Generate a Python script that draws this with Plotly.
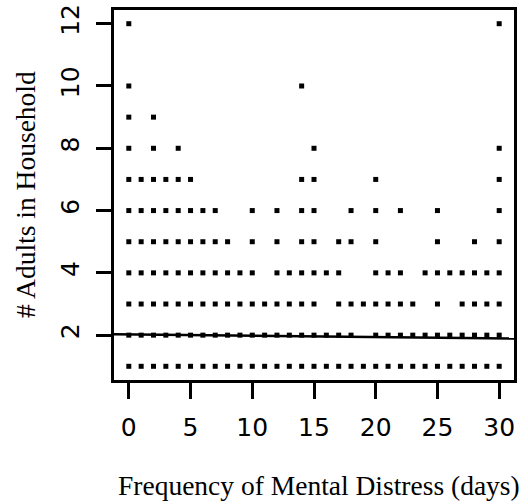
import plotly.graph_objects as go

# Days of mental distress observed for each household size (# adults)
adults_1 = list(range(0, 31))
adults_2 = list(range(0, 19)) + list(range(20, 31))
adults_3 = list(range(0, 16)) + list(range(17, 24)) + [25, 27, 28, 29, 30]
adults_4 = list(range(0, 11)) + list(range(12, 18)) + [20, 21, 22] + list(range(24, 31))
adults_5 = list(range(0, 9)) + [10, 12, 14, 15, 17, 18, 20, 25, 28, 30]
adults_6 = list(range(0, 8)) + [10, 12, 14, 15, 18, 20, 22, 25, 30]
adults_7 = [0, 1, 2, 3, 4, 5, 14, 15, 20, 30]
adults_8 = [0, 2, 4, 15, 30]
adults_9 = [0, 2]
adults_10 = [0, 14]
adults_12 = [0, 30]

rows = {1: adults_1, 2: adults_2, 3: adults_3, 4: adults_4, 5: adults_5,
        6: adults_6, 7: adults_7, 8: adults_8, 9: adults_9, 10: adults_10,
        12: adults_12}

# fitted regression line
intercept = 2.025
slope = -0.0043

x_ticks = [0, 5, 10, 15, 20, 25, 30]
y_ticks = [2, 4, 6, 8, 10, 12]

xs, ys = [], []
for n, days in rows.items():
    xs += days
    ys += [n] * len(days)

x_range = [-1.2, 31.2]
y_range = [0.56, 12.44]

fig = go.Figure()
fig.add_trace(go.Scatter(
    x=xs, y=ys, mode="markers",
    marker=dict(symbol="square", size=5, color="black", line=dict(width=0)),
    showlegend=False, hoverinfo="x+y"))
fig.add_trace(go.Scatter(
    x=x_range, y=[intercept + slope * v for v in x_range], mode="lines",
    line=dict(color="black", width=2.5), showlegend=False, hoverinfo="skip"))

tick_font = dict(family="DejaVu Sans", size=25, color="black")
title_font = dict(family="Liberation Serif", size=27.5, color="black")

fig.update_layout(
    template="none",
    width=528, height=504,
    margin=dict(l=114, r=14, t=10, b=124, pad=0),
    paper_bgcolor="white", plot_bgcolor="white",
    xaxis=dict(range=x_range, tickvals=x_ticks, ticks="outside", ticklen=16,
               tickwidth=2.5, tickcolor="black", showline=True, linecolor="black",
               linewidth=2.5, mirror=True, showgrid=False, zeroline=False,
               tickfont=tick_font, ticklabelstandoff=7, automargin=False),
    yaxis=dict(range=y_range, tickvals=y_ticks, ticks="outside", ticklen=15,
               tickwidth=2.5, tickcolor="black", showline=True, linecolor="black",
               linewidth=2.5, mirror=True, showgrid=False, zeroline=False,
               tickfont=tick_font, tickangle=-90, ticklabelstandoff=7,
               automargin=False),
    annotations=[
        dict(text="Frequency of Mental Distress (days)", xref="paper", yref="paper",
             x=0.5, y=0, yshift=-105, xanchor="center", yanchor="middle",
             showarrow=False, font=title_font, xshift=5),
        dict(text="# Adults in Household", xref="paper", yref="paper",
             x=0, y=0.5, xshift=-89, xanchor="center", yanchor="middle",
             textangle=-90, showarrow=False, font=title_font),
    ],
)

fig.write_html("out.html")
